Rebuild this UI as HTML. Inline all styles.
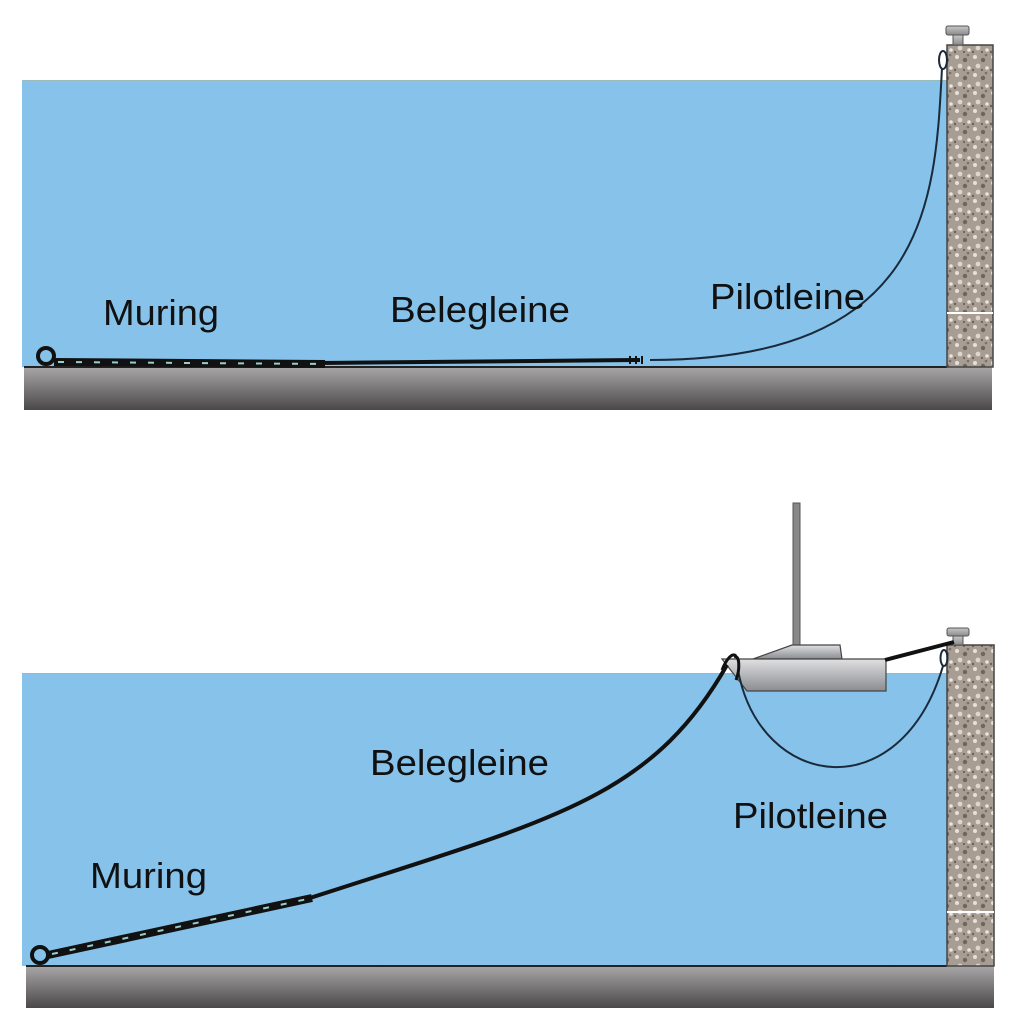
<!DOCTYPE html>
<html><head><meta charset="utf-8"><style>
html,body{margin:0;padding:0;background:#fff;}
svg{display:block}
text{font-family:"Liberation Sans",sans-serif;font-size:36px;fill:#111}
</style></head><body>
<svg width="1024" height="1024" viewBox="0 0 1024 1024" xmlns="http://www.w3.org/2000/svg">
<defs>
<linearGradient id="bed" x1="0" y1="0" x2="0" y2="1">
<stop offset="0" stop-color="#a8a6a6"/><stop offset="1" stop-color="#4a4848"/></linearGradient>
<linearGradient id="hull" x1="0" y1="0" x2="0" y2="1">
<stop offset="0" stop-color="#e0e0e2"/><stop offset="1" stop-color="#8a8c90"/></linearGradient>
<linearGradient id="bol" x1="0" y1="0" x2="0" y2="1">
<stop offset="0" stop-color="#c8c8c8"/><stop offset="1" stop-color="#8a8a8a"/></linearGradient>
<pattern id="stone" width="18" height="18" patternUnits="userSpaceOnUse">
<rect width="18" height="18" fill="#a89d92"/>
<circle cx="3" cy="3" r="2" fill="#e6e0d8"/>
<circle cx="11" cy="6" r="2.2" fill="#6e655d"/>
<circle cx="6" cy="12" r="2.4" fill="#ddd6cc"/>
<circle cx="15" cy="14" r="1.8" fill="#e9e4dc"/>
<circle cx="14" cy="1" r="1.3" fill="#7a7068"/>
<circle cx="1" cy="16" r="1.2" fill="#6a625a"/>
<circle cx="10" cy="16" r="1" fill="#5e5650"/>
</pattern>
</defs>

<!-- TOP PANEL -->
<rect x="22" y="80" width="925" height="287" fill="#86c2ea"/>
<line x1="22" y1="80.5" x2="947" y2="80.5" stroke="#9bb" stroke-width="1"/>
<rect x="24" y="367" width="968" height="43" fill="url(#bed)"/>
<line x1="24" y1="367" x2="947" y2="367" stroke="#222" stroke-width="2"/>
<rect x="947" y="45" width="46" height="322" fill="url(#stone)" stroke="#444" stroke-width="1.5"/>
<line x1="947" y1="313" x2="993" y2="313" stroke="#fff" stroke-width="2"/>
<rect x="953" y="35" width="10" height="10" fill="url(#bol)" stroke="#555"/>
<rect x="946" y="26" width="23" height="9" rx="2" fill="url(#bol)" stroke="#555"/>
<ellipse cx="943" cy="60" rx="4" ry="9" fill="none" stroke="#1a2a3a" stroke-width="2"/>
<path d="M942 68 C 935 200, 930 360, 650 360" fill="none" stroke="#1a2a3a" stroke-width="2"/>
<path d="M320 363 L640 360" stroke="#111" stroke-width="4"/>
<path d="M630 356 v8 M636 356 v8 M642 356 v8" stroke="#111" stroke-width="2"/>
<circle cx="46" cy="356" r="8" fill="none" stroke="#111" stroke-width="4"/>
<path d="M54 362 L325 364" stroke="#111" stroke-width="8"/>
<path d="M58 362 L325 364" stroke="#9cc" stroke-width="2" stroke-dasharray="6 12"/>
<text x="103" y="325" textLength="116" lengthAdjust="spacingAndGlyphs">Muring</text>
<text x="390" y="322" textLength="180" lengthAdjust="spacingAndGlyphs">Belegleine</text>
<text x="710" y="309" textLength="155" lengthAdjust="spacingAndGlyphs">Pilotleine</text>

<!-- BOTTOM PANEL -->
<rect x="22" y="673" width="925" height="293" fill="#86c2ea"/>
<line x1="22" y1="673.5" x2="947" y2="673.5" stroke="#9bb" stroke-width="1"/>
<rect x="26" y="966" width="968" height="42" fill="url(#bed)"/>
<line x1="26" y1="966" x2="947" y2="966" stroke="#222" stroke-width="2"/>
<rect x="947" y="645" width="47" height="321" fill="url(#stone)" stroke="#444" stroke-width="1.5"/>
<line x1="947" y1="912" x2="994" y2="912" stroke="#fff" stroke-width="2"/>
<rect x="953" y="636" width="10" height="9" fill="url(#bol)" stroke="#555"/>
<rect x="947" y="628" width="22" height="8" rx="2" fill="url(#bol)" stroke="#555"/>
<!-- boat -->
<rect x="793" y="503" width="7" height="143" fill="#888" stroke="#555"/>
<path d="M753 659 L792 645 L840 645 L842 659 Z" fill="url(#hull)" stroke="#444" stroke-width="1.2"/>
<path d="M722 659 L886 659 L886 691 L747 691 Z" fill="url(#hull)" stroke="#444" stroke-width="1.2"/>
<path d="M885 660 L954 642" stroke="#111" stroke-width="4"/>
<ellipse cx="944" cy="658" rx="3.5" ry="8" fill="none" stroke="#1a2a3a" stroke-width="2"/>
<path d="M738 670 C 760 790, 900 810, 943 666" fill="none" stroke="#1a2a3a" stroke-width="2"/>
<path d="M734 657 C 740 654, 740 670, 736 680 M722 670 C 726 660, 732 652, 736 656" fill="none" stroke="#111" stroke-width="3"/>
<path d="M310 898 C 550 820, 650 800, 727 665" fill="none" stroke="#111" stroke-width="4"/>
<circle cx="40" cy="955" r="8" fill="none" stroke="#111" stroke-width="4"/>
<path d="M48 955 L312 898" stroke="#111" stroke-width="8"/>
<path d="M52 954 L312 898" stroke="#9cc" stroke-width="2" stroke-dasharray="6 12"/>
<text x="90" y="888" textLength="117" lengthAdjust="spacingAndGlyphs">Muring</text>
<text x="370" y="775" textLength="179" lengthAdjust="spacingAndGlyphs">Belegleine</text>
<text x="733" y="828" textLength="155" lengthAdjust="spacingAndGlyphs">Pilotleine</text>
</svg>
</body></html>
